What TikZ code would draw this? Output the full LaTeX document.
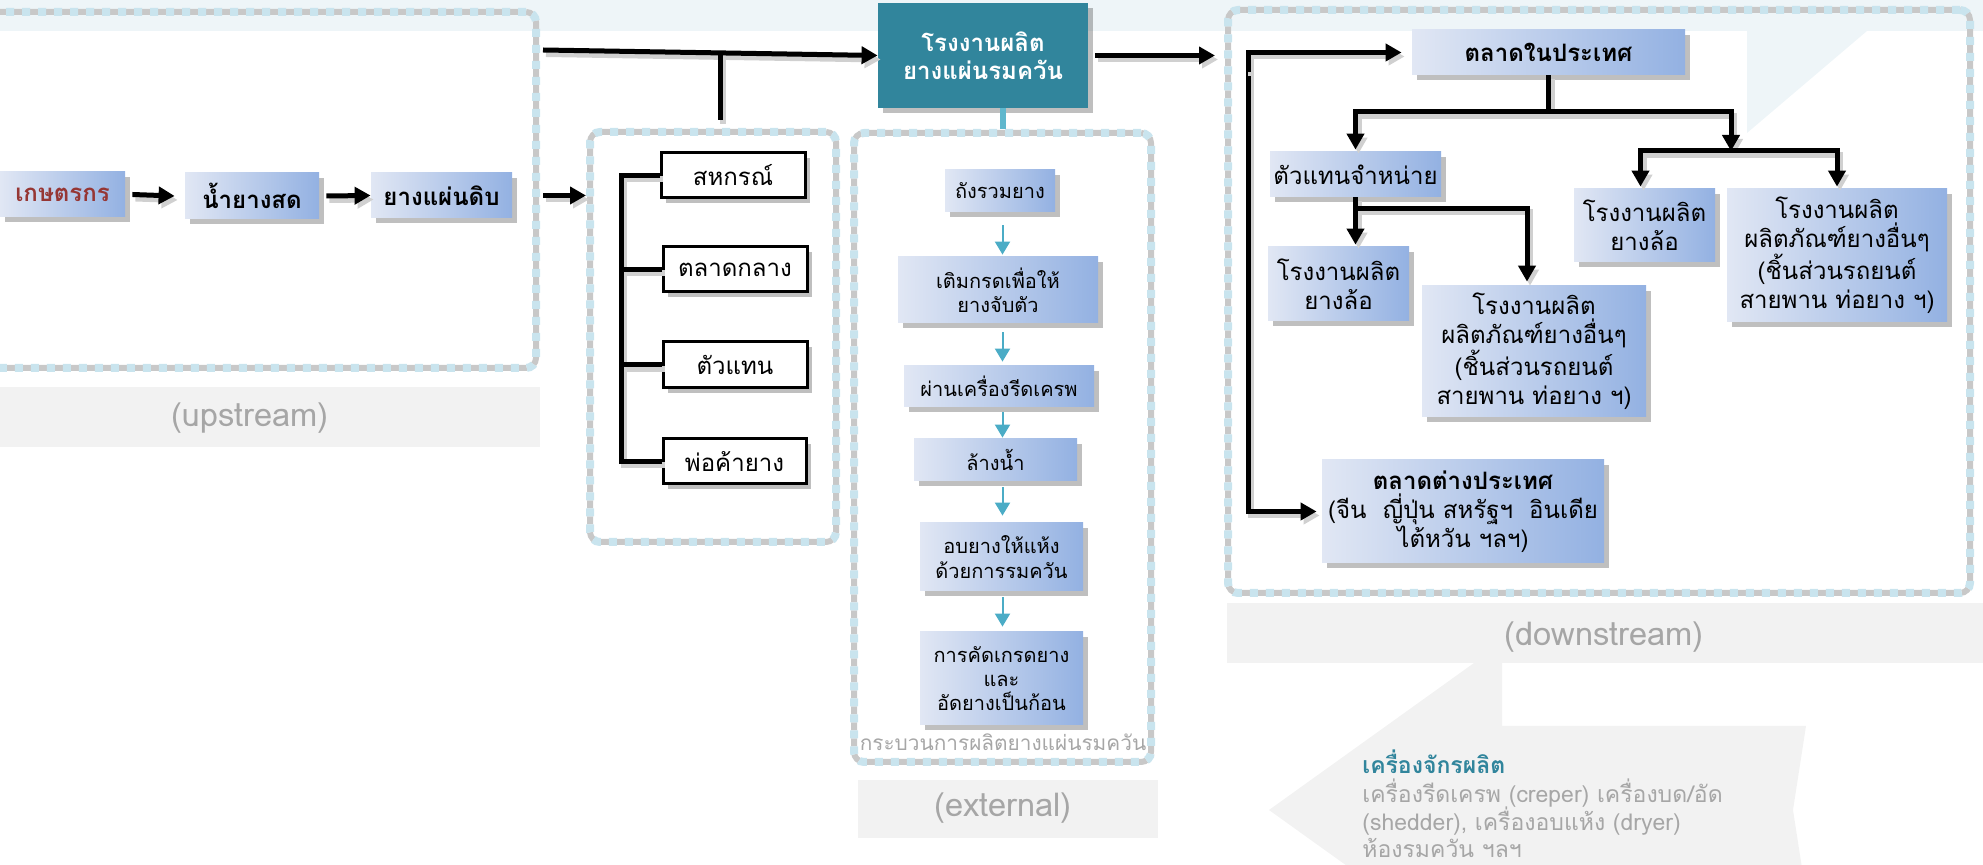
\documentclass[tikz,border=0pt]{standalone}
\usepackage{fontspec}
\setmainfont{Loma}[Script=Thai]
\usetikzlibrary{arrows.meta,shadows,calc}
\definecolor{tealbox}{HTML}{31859C}
\definecolor{tealarr}{HTML}{4BACC6}
\definecolor{tealstub}{HTML}{5FB7CD}
\definecolor{bandblue}{HTML}{EEF5F8}
\definecolor{graybg}{HTML}{F2F2F2}
\definecolor{graytxt}{HTML}{A6A6A6}
\definecolor{boxL}{HTML}{E1E7F4}
\definecolor{boxR}{HTML}{93B1E2}
\definecolor{dotblue}{HTML}{C9E4EE}
\definecolor{dotgray}{HTML}{C8C8C8}
\definecolor{redbrown}{HTML}{963634}
\definecolor{lnshadow}{HTML}{D0D0D0}
\tikzset{
  shd/.style={drop shadow={shadow xshift=2.5pt, shadow yshift=-2.5pt, fill=black, opacity=0.25}},
  box/.style={left color=boxL, right color=boxR, align=center, inner sep=0pt, text=black,
     font=\fontsize{12pt}{14.5pt}\selectfont, shd},
  bbox/.style={box, font=\fontsize{12pt}{14.5pt}\selectfont\bfseries},
  pbox/.style={box, font=\fontsize{10pt}{12.2pt}\selectfont},
  wbox/.style={draw=black, line width=1.5pt, fill=white, align=center, inner sep=0pt,
     font=\fontsize{12pt}{14.5pt}\selectfont, shd},
  tbox/.style={fill=tealbox, text=white, align=center, inner sep=0pt,
     font=\fontsize{12pt}{14pt}\selectfont\bfseries, shd},
  panel/.style={draw=dotblue, line width=4pt, dash pattern=on 4pt off 4pt, rounded corners=5pt, inner sep=0pt,
     preaction={draw=dotgray, line width=3pt, dash pattern=on 4pt off 4pt, dash phase=4pt}},
  ln/.style={draw=black, line width=2.5pt,
     preaction={draw=lnshadow, line width=3pt, transform canvas={xshift=1.5pt, yshift=-2pt}}},
  arr/.style={ln, -{Triangle[length=8pt,width=8.5pt]}},
  parr/.style={draw=tealarr, line width=1pt, -{Triangle[length=6.5pt,width=7.5pt]}},
  lbl/.style={text=graytxt, inner sep=0pt, font=\fontsize{16.3pt}{19pt}\selectfont},
  mtxt/.style={text=graytxt, anchor=base west, inner sep=0pt, font=\fontsize{11.5pt}{14pt}\selectfont}
}
\begin{document}
\begin{tikzpicture}[x=0.5pt, y=-0.5pt]
\useasboundingbox (0,0) rectangle (1983,865);
\clip (0,0) rectangle (1983,865);
% backgrounds
\fill[bandblue] (0,0) rectangle (1983,31);
\fill[bandblue] (1747,31) -- (1867,31) -- (1747,133) -- cycle;
\fill[graybg] (-40,387) rectangle (540,447);
\fill[graybg] (858,780) rectangle (1158,838);
\fill[graybg] (1227,603) rectangle (1990,663);
\fill[graybg] (1502,663) -- (1474,663) -- (1269,810) -- (1474,957) -- (1502,957) -- (1502,894)
   -- (1806,894) -- (1793,810) -- (1806,726) -- (1502,726) -- cycle;

% panels
\node[panel, minimum width=278pt, minimum height=178pt] (up) at (258,190) {};
\node[panel, minimum width=123pt, minimum height=205pt] (dp) at (713,337) {};
\node[panel, minimum width=148.5pt, minimum height=314.5pt] (pp) at (1002.5,447.5) {};
\node[panel, minimum width=371pt, minimum height=291.5pt] (dn) at (1599,301.5) {};

% upstream chain
\node[bbox, minimum width=62.5pt, minimum height=22.5pt, text=redbrown] (farmer) at (62.5,194.5) {เกษตรกร};
\node[bbox, minimum width=67pt, minimum height=23pt] (latex) at (252,196) {น้ำยางสด};
\node[bbox, minimum width=70.5pt, minimum height=22.5pt] (raw) at (441.5,195.5) {ยางแผ่นดิบ};

% teal factory
\node[tbox, minimum width=105pt, minimum height=52.5pt] (teal) at (983,55.5) {โรงงานผลิต\\ยางแผ่นรมควัน};

% dealers
\node[wbox, minimum width=72pt, minimum height=22.5pt] (coop) at (733,175.5) {สหกรณ์};
\node[wbox, minimum width=72pt, minimum height=22.5pt] (central) at (735,269.5) {ตลาดกลาง};
\node[wbox, minimum width=72pt, minimum height=23pt] (agent) at (735,365) {ตัวแทน};
\node[wbox, minimum width=71.5pt, minimum height=22.5pt] (dealer) at (734.5,461.5) {พ่อค้ายาง};

% process
\node[pbox, minimum width=55pt, minimum height=21pt] (p1) at (1000,191) {ถังรวมยาง};
\node[pbox, minimum width=100pt, minimum height=33pt] (p2) at (998,290) {เติมกรดเพื่อให้\\ยางจับตัว};
\node[pbox, minimum width=95pt, minimum height=20.5pt] (p3) at (999,386.5) {ผ่านเครื่องรีดเครพ};
\node[pbox, minimum width=81.5pt, minimum height=21pt] (p4) at (995.5,460) {ล้างน้ำ};
\node[pbox, minimum width=81.5pt, minimum height=34pt] (p5) at (1001.5,557) {อบยางให้แห้ง\\ด้วยการรมควัน};
\node[pbox, minimum width=81.5pt, minimum height=46.5pt] (p6) at (1001.5,678.5) {การคัดเกรดยาง\\และ\\อัดยางเป็นก้อน};
\node[text=graytxt, inner sep=0pt, font=\fontsize{10.4pt}{12pt}\selectfont] (cap) at (1003,742) {กระบวนการผลิตยางแผ่นรมควัน};

% downstream
\node[bbox, minimum width=136.5pt, minimum height=22.5pt] (domestic) at (1548.5,52.5) {ตลาดในประเทศ};
\node[box, minimum width=85.5pt, minimum height=22.5pt] (distributor) at (1355.5,174.5) {ตัวแทนจำหน่าย};
\node[box, minimum width=70.5pt, minimum height=36.5pt] (tireR) at (1644.5,225.5) {โรงงานผลิต\\ยางล้อ};
\node[box, minimum width=110pt, minimum height=66.5pt] (otherR) at (1837,255.5) {โรงงานผลิต\\ผลิตภัณฑ์ยางอื่นๆ\\(ชิ้นส่วนรถยนต์\\สายพาน ท่อยาง ฯ)};
\node[box, minimum width=70.5pt, minimum height=37pt] (tireL) at (1338.5,284) {โรงงานผลิต\\ยางล้อ};
\node[box, minimum width=112pt, minimum height=65.5pt] (otherL) at (1534,351.5) {โรงงานผลิต\\ผลิตภัณฑ์ยางอื่นๆ\\(ชิ้นส่วนรถยนต์\\สายพาน ท่อยาง ฯ)};
\node[box, minimum width=141pt, minimum height=51.5pt] (export) at (1463,511.5) {\textbf{ตลาดต่างประเทศ}\\(จีน~ ญี่ปุ่น สหรัฐฯ~ อินเดีย\\ไต้หวัน ฯลฯ)};

% labels
\node[lbl] (lup) at (250,418) {(upstream)};
\node[lbl] (lex) at (1003,808) {(external)};
\node[lbl] (ldn) at (1604,637) {(downstream)};
\node[mtxt, text=tealbox, font=\fontsize{11.5pt}{14pt}\selectfont\bfseries] (mt) at (1362,774) {เครื่องจักรผลิต};
\node[mtxt] (m1) at (1362,803) {เครื่องรีดเครพ (creper) เครื่องบด/อัด};
\node[mtxt] (m2) at (1362,831) {(shedder), เครื่องอบแห้ง (dryer)};
\node[mtxt] (m3) at (1362,858) {ห้องรมควัน ฯลฯ};

% upstream arrows
\draw[arr] ($(farmer.east)+(7,0)$) -- ($(latex.west)+(-10,0)$);
\draw[arr] ($(latex.east)+(7,0)$) -- (raw.west);
\draw[arr] ($(up.east |- raw.east)+(3,0)$) -- (dp.west |- raw.east);
\coordinate (ts) at (543,50);
\draw[arr] (ts) -- (teal.west);
\coordinate (tv) at ($(ts)!0.529!(teal.west)$);
\draw[ln] (tv) -- ($(tv |- dp.north)+(0,-8)$);

% dealer bracket
\coordinate (bx) at (621,0);
\draw[ln] (coop.west) -- (coop.west -| bx) -- (dealer.west -| bx) -- (dealer.west);
\draw[ln] (central.west) -- (central.west -| bx);
\draw[ln] (agent.west) -- (agent.west -| bx);

% factory to downstream and process
\draw[arr] ($(teal.east)+(7,0)$) -- ($(dn.west |- teal.east)+(-9,0)$);
\draw[tealstub, line width=3pt] (pp.north) -- (pp.north |- teal.south);
\draw[parr] ($(p1.south -| pp.north)+(0,13)$) -- ($(p2.north -| pp.north)+(0,-2)$);
\draw[parr] ($(p2.south -| pp.north)+(0,9)$) -- ($(p3.north -| pp.north)+(0,-4)$);
\draw[parr] ($(p3.south -| pp.north)+(0,5)$) -- ($(p4.north -| pp.north)+(0,-1)$);
\draw[parr] ($(p4.south -| pp.north)+(0,6)$) -- ($(p5.north -| pp.north)+(0,-7)$);
\draw[parr] ($(p5.south -| pp.north)+(0,6)$) -- ($(p6.north -| pp.north)+(0,-5)$);

% downstream tree
\coordinate (j1) at (domestic.south |- 0,112);
\draw[ln] (domestic.south) -- (j1);
\draw[arr] (j1) -| ($(distributor.north)+(0,-2)$);
\coordinate (j2) at (1731,151);
\draw[arr] (j1) -| (j2);
\draw[arr] (j2) -| ($(tireR.north)+(-4,-2)$);
\draw[arr] (j2) -| ($(otherR.north)+(0,-2)$);
\coordinate (j3) at ($(distributor.south)+(0,11)$);
\draw[arr] (distributor.south) -- ($(distributor.south |- tireL.north)+(0,-2)$);
\draw[arr] (j3) -| ($(otherL.north)+(-7,-4)$);

% market bracket
\coordinate (k) at (1248,0);
\draw[arr] (domestic.west -| k) -- (export.west -| k) -- ($(export.west)+(-5,0)$);
\draw[arr] ($(domestic.west -| k)+(0,20)$) -- (domestic.west -| k) -- ($(domestic.west)+(-10,0)$);
\end{tikzpicture}
\end{document}
